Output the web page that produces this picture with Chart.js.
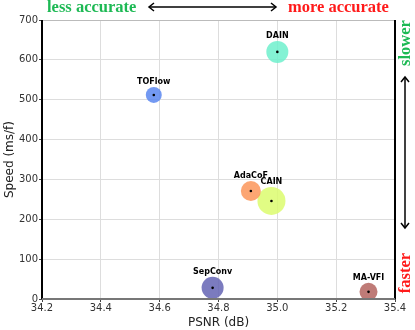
<!DOCTYPE html>
<html>
<head>
<meta charset="utf-8">
<script src="https://cdn.jsdelivr.net/npm/chart.js@4/dist/chart.umd.min.js"></script>
<style>
  html, body { margin: 0; padding: 0; background: #fff; }
  #wrap { width: 415px; height: 330px; position: relative; }
</style>
</head>
<body>
<div id="wrap"><canvas id="myChart" width="415" height="330"></canvas></div>
<script>
// methods, PSNR (dB), speed (ms/f), bubble radius
var methods = ['TOFlow', 'DAIN', 'AdaCoF', 'CAIN', 'SepConv', 'MA-VFI'];
var psnr = [34.58, 35.00, 34.91, 34.98, 34.78, 35.31];
var speed = [512, 620, 271, 246, 28, 18];
var bubbleR = [8, 11, 10, 14, 11, 9];
var colors = [
  'rgba(90,135,240,0.85)',
  'rgba(110,240,205,0.85)',
  'rgba(252,150,90,0.85)',
  'rgba(220,252,110,0.85)',
  'rgba(100,100,180,0.85)',
  'rgba(180,100,95,0.85)'
];
var xTicks = [34.2, 34.4, 34.6, 34.8, 35.0, 35.2, 35.4];
var yTicks = [0, 100, 200, 300, 400, 500, 600, 700];

var datasets = [];
for (i = 0; i < methods.length; i++) {
  datasets.push({
    label: methods[i],
    data: [{ x: psnr[i], y: speed[i], r: bubbleR[i] }],
    backgroundColor: colors[i],
    borderWidth: 0,
    hoverRadius: 0
  });
}

// labels above bubbles, centre dots, frame and the side annotations
var decorations = {
  id: 'decorations',
  afterDatasetsDraw: function(chart) {
    var ctx = chart.ctx;
    var a = chart.chartArea;
    ctx.save();
    // frame
    ctx.lineWidth = 1;
    ctx.strokeStyle = '#bbb';
    ctx.beginPath(); ctx.moveTo(a.left, a.top + 0.5); ctx.lineTo(a.right, a.top + 0.5); ctx.stroke();
    ctx.lineWidth = 2;
    ctx.strokeStyle = '#000';
    ctx.beginPath(); ctx.moveTo(a.right, a.top); ctx.lineTo(a.right, a.bottom); ctx.stroke();
    ctx.beginPath(); ctx.moveTo(a.left, a.top); ctx.lineTo(a.left, a.bottom); ctx.stroke();
    ctx.strokeStyle = '#777';
    ctx.beginPath(); ctx.moveTo(a.left, a.bottom); ctx.lineTo(a.right, a.bottom); ctx.stroke();

    // dots and names
    chart.data.datasets.forEach(function(ds, i) {
      var el = chart.getDatasetMeta(i).data[0];
      ctx.fillStyle = '#000';
      ctx.beginPath(); ctx.arc(el.x, el.y, 1.3, 0, Math.PI * 2); ctx.fill();
      ctx.font = 'bold 8px "DejaVu Sans"';
      ctx.textAlign = 'center';
      ctx.textBaseline = 'middle';
      ctx.fillText(ds.label, el.x, el.y - bubbleR[i] - 5);
    });

    // top annotations
    ctx.font = 'bold 16.5px "Liberation Serif"';
    ctx.textBaseline = 'middle';
    ctx.textAlign = 'left';
    ctx.fillStyle = '#1db954';
    ctx.fillText('less accurate', 47, 8);
    ctx.fillStyle = '#ff1a1a';
    ctx.fillText('more accurate', 288, 8);
    ctx.strokeStyle = '#000';
    ctx.lineWidth = 1.5;
    ctx.beginPath(); ctx.moveTo(149, 7); ctx.lineTo(276, 7); ctx.stroke();
    ctx.beginPath(); ctx.moveTo(154, 3); ctx.lineTo(149, 7); ctx.lineTo(154, 11); ctx.stroke();
    ctx.beginPath(); ctx.moveTo(271, 3); ctx.lineTo(276, 7); ctx.lineTo(271, 11); ctx.stroke();

    // right annotations
    ctx.save();
    ctx.translate(406, 0);
    ctx.rotate(-Math.PI / 2);
    ctx.textAlign = 'center';
    ctx.fillStyle = '#1db954';
    ctx.fillText('slower', -43, 0);
    ctx.fillStyle = '#ff1a1a';
    ctx.fillText('faster', -273, 0);
    ctx.restore();
    ctx.beginPath(); ctx.moveTo(405, 77); ctx.lineTo(405, 228); ctx.stroke();
    ctx.beginPath(); ctx.moveTo(401, 82); ctx.lineTo(405, 77); ctx.lineTo(409, 82); ctx.stroke();
    ctx.beginPath(); ctx.moveTo(401, 223); ctx.lineTo(405, 228); ctx.lineTo(409, 223); ctx.stroke();
    ctx.restore();
  }
};

var ctx = document.getElementById('myChart').getContext('2d');
var myChart = new Chart(ctx, {
  type: 'bubble',
  data: { datasets: datasets },
  options: {
    responsive: false,
    animation: false,
    events: [],
    layout: { padding: { left: 0, top: 20, right: 20, bottom: 0 } },
    plugins: { legend: { display: false }, tooltip: { enabled: false } },
    scales: {
      x: {
        type: 'linear',
        min: 34.2, max: 35.4,
        afterBuildTicks: function(s) { s.ticks = xTicks.map(function(v) { return { value: v }; }); },
        afterFit: function(s) { s.height = 31; },
        grid: { color: '#ddd', drawTicks: true, tickLength: 3, tickColor: '#444' },
        border: { display: false },
        ticks: {
          color: '#333', padding: 0, maxRotation: 0,
          font: { family: 'DejaVu Sans', size: 10 },
          callback: function(v) { return v.toFixed(1); }
        },
        title: { display: true, text: 'PSNR (dB)', color: '#222', padding: 0,
          font: { family: 'DejaVu Sans', size: 12 } }
      },
      y: {
        min: 0, max: 700,
        afterBuildTicks: function(s) { s.ticks = yTicks.map(function(v) { return { value: v }; }); },
        afterFit: function(s) { s.width = 42; },
        grid: { color: '#ddd', drawTicks: true, tickLength: 3, tickColor: '#444' },
        border: { display: false },
        ticks: {
          color: '#333', padding: 1,
          font: { family: 'DejaVu Sans', size: 10 }
        },
        title: { display: true, text: 'Speed (ms/f)', color: '#222', padding: { top: 3, bottom: 0 },
          font: { family: 'DejaVu Sans', size: 12 } }
      }
    }
  },
  plugins: [decorations]
});
</script>
</body>
</html>
